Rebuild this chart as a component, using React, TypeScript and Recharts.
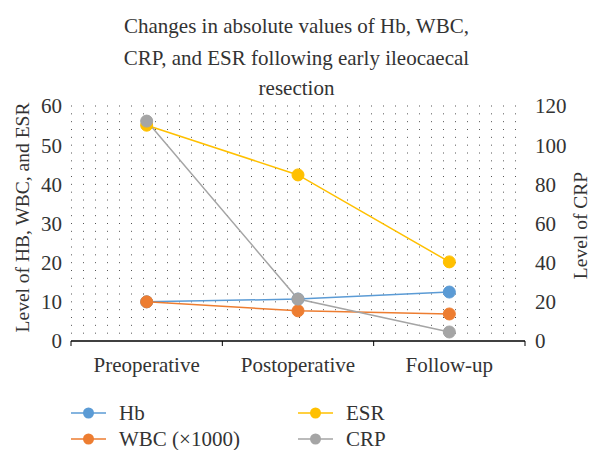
import React from "react";
import {
  LineChart,
  Line,
  XAxis,
  YAxis,
  CartesianGrid,
  Legend,
} from "recharts";

const categories = ["Preoperative", "Postoperative", "Follow-up"];
const hbValues = [10.0, 10.7, 12.5];
const wbcValues = [10.0, 7.7, 6.9];
const esrValues = [55.1, 42.4, 20.2];
const crpValues = [112.3, 21.4, 4.6];

const seriesNames = ["Hb", "WBC (×1000)", "ESR", "CRP"];

const leftTicks = [0, 10, 20, 30, 40, 50, 60];
const rightTicks = [0, 20, 40, 60, 80, 100, 120];
const gridTicks = [2, 4, 6, 8, 10, 12, 14, 16, 18, 20, 22, 24, 26, 28, 30, 32, 34, 36, 38, 40, 42, 44, 46, 48, 50, 52, 54, 56, 58, 60];
const leftMax = 60;

const titleLines = [
  "Changes in absolute values of Hb, WBC,",
  "CRP, and ESR following early ileocaecal",
  "resection",
];

const data = categories.map((c, i) => ({
  name: c,
  hb: hbValues[i],
  wbc: wbcValues[i],
  esr: esrValues[i],
  crp: crpValues[i],
}));

const FONT = '"Liberation Serif", "DejaVu Serif", serif';
const FS = 21;
const FS_AXIS = 19.5;
const TEXT = "#333333";
const C_HB = "#5B9BD5";
const C_WBC = "#ED7D31";
const C_ESR = "#FFC000";
const C_CRP = "#A5A5A5";

const renderLegend = (props: any) => {
  const { payload = [] } = props;
  const ordered = [...payload].sort(
    (a: any, b: any) => seriesNames.indexOf(a.value) - seriesNames.indexOf(b.value)
  );
  return (
    <div style={{ position: "relative", width: 593, height: 50, fontFamily: FONT }}>
      {ordered.map((entry: any, i: number) => {
        const col = Math.floor(i / 2);
        const row = i % 2;
        const left = col === 0 ? 71 : 298;
        const top = row === 0 ? 4 : 30;
        return (
          <div
            key={i}
            style={{
              position: "absolute",
              left,
              top,
              height: 20,
              display: "flex",
              alignItems: "center",
              whiteSpace: "nowrap",
            }}
          >
            <svg width={35} height={14} style={{ display: "block" }}>
              <line x1={0} y1={7} x2={35} y2={7} stroke={entry.color} strokeWidth={1.5} />
              <circle cx={17.5} cy={7} r={5.5} fill={entry.color} />
            </svg>
            <span style={{ marginLeft: 13, fontSize: FS, color: TEXT, lineHeight: "20px" }}>
              {entry.value}
            </span>
          </div>
        );
      })}
    </div>
  );
};

const leftLabel = (props: any) => {
  const vb = props.viewBox || {};
  const x = vb.x + 22;
  const y = vb.y + vb.height / 2 - 6;
  return (
    <text
      x={x}
      y={y}
      transform={`rotate(-90, ${x}, ${y})`}
      textAnchor="middle"
      dominantBaseline="central"
      fontSize={FS_AXIS}
      fill={TEXT}
      fontFamily={FONT}
    >
      Level of HB, WBC, and ESR
    </text>
  );
};

const rightLabel = (props: any) => {
  const vb = props.viewBox || {};
  const x = vb.x + 55;
  const y = vb.y + vb.height / 2 + 2;
  return (
    <text
      x={x}
      y={y}
      transform={`rotate(-90, ${x}, ${y})`}
      textAnchor="middle"
      dominantBaseline="central"
      fontSize={FS_AXIS}
      fill={TEXT}
      fontFamily={FONT}
    >
      Level of CRP
    </text>
  );
};

const CategoryTick = (props: any) => {
  const { x, y, payload, index, visibleTicksCount, width } = props;
  const half =
    payload && typeof payload.offset === "number" && payload.offset > 0
      ? payload.offset
      : Number(width) / visibleTicksCount / 2;
  const isLast = index === visibleTicksCount - 1;
  return (
    <g>
      <line x1={x - half} y1={y} x2={x - half} y2={y + 5} stroke="#000" strokeWidth={1} />
      {isLast && (
        <line x1={x + half} y1={y} x2={x + half} y2={y + 5} stroke="#000" strokeWidth={1} />
      )}
      <text
        x={x}
        y={y + 31}
        textAnchor="middle"
        fontSize={FS}
        fill={TEXT}
        fontFamily={FONT}
      >
        {payload.value}
      </text>
    </g>
  );
};

const gridGenerator = (p: any) => {
  const ax = p && p.yAxis;
  if (ax && typeof ax.scale === "function") {
    return gridTicks.map((t) => ax.scale(t));
  }
  if (ax && ax.scale && typeof ax.scale.map === "function") {
    return gridTicks.map((t) => ax.scale.map(t));
  }
  const off = (p && p.offset) || {};
  const top = off.top ?? 0;
  const h = off.height ?? 0;
  return gridTicks.map((t) => top + h * (1 - t / leftMax));
};

const tickStyle = { fontSize: FS, fill: TEXT, fontFamily: FONT };

export default function App() {
  return (
    <div style={{ position: "absolute", left: 0, top: 0, width: 593, height: 450, background: "#fff" }}>
      <LineChart
        width={593}
        height={450}
        data={data}
        margin={{ top: 106, right: 0, bottom: 29, left: 0 }}
      >
        <CartesianGrid
          yAxisId="left"
          vertical={false}
          stroke="#555"
          strokeWidth={1}
          strokeDasharray="1 11"
          horizontalCoordinatesGenerator={gridGenerator}
        />
        <XAxis
          dataKey="name"
          scale="band"
          height={30}
          axisLine={{ stroke: "#000", strokeWidth: 1.5 }}
          tickLine={false}
          tickSize={0}
          tickMargin={0}
          tick={<CategoryTick />}
          interval={0}
        />
        <YAxis
          yAxisId="left"
          domain={[0, leftMax]}
          ticks={leftTicks}
          width={71}
          axisLine={false}
          tickLine={false}
          tickSize={0}
          tickMargin={9}
          tick={tickStyle}
          label={leftLabel}
        />
        <YAxis
          yAxisId="right"
          orientation="right"
          domain={[0, 120]}
          ticks={rightTicks}
          width={68}
          axisLine={false}
          tickLine={false}
          tickSize={0}
          tickMargin={10}
          tick={{ ...tickStyle, textAnchor: "start" }}
          label={rightLabel}
        />
        <Legend
          content={renderLegend}
          verticalAlign="bottom"
          wrapperStyle={{ top: 399, left: 0, width: 593 }}
        />
        <Line
          yAxisId="left"
          dataKey="hb"
          name="Hb"
          stroke={C_HB}
          strokeWidth={1.5}
          dot={{ r: 6, fill: C_HB, stroke: C_HB, strokeWidth: 1 }}
          activeDot={false}
          isAnimationActive={false}
        />
        <Line
          yAxisId="left"
          dataKey="wbc"
          name="WBC (×1000)"
          stroke={C_WBC}
          strokeWidth={1.5}
          dot={{ r: 6, fill: C_WBC, stroke: C_WBC, strokeWidth: 1 }}
          activeDot={false}
          isAnimationActive={false}
        />
        <Line
          yAxisId="left"
          dataKey="esr"
          name="ESR"
          stroke={C_ESR}
          strokeWidth={1.5}
          dot={{ r: 6, fill: C_ESR, stroke: C_ESR, strokeWidth: 1 }}
          activeDot={false}
          isAnimationActive={false}
        />
        <Line
          yAxisId="right"
          dataKey="crp"
          name="CRP"
          stroke={C_CRP}
          strokeWidth={1.5}
          dot={{ r: 6, fill: C_CRP, stroke: C_CRP, strokeWidth: 1 }}
          activeDot={false}
          isAnimationActive={false}
        />
      </LineChart>
      <svg
        width={593}
        height={105}
        style={{ position: "absolute", left: 0, top: 0, pointerEvents: "none" }}
      >
        {titleLines.map((t, i) => (
          <text
            key={i}
            x={296.5}
            y={[33, 65, 95][i]}
            textAnchor="middle"
            fontSize={FS}
            fill={TEXT}
            fontFamily={FONT}
          >
            {t}
          </text>
        ))}
      </svg>
    </div>
  );
}
